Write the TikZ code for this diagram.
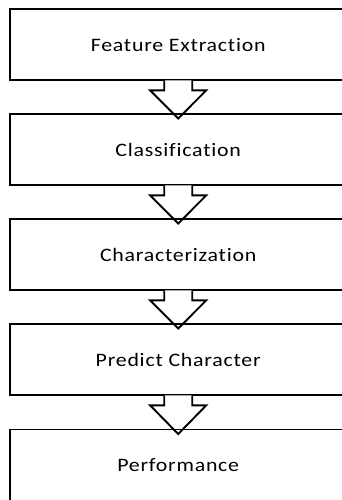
\documentclass[tikz,border=0pt]{standalone}
\usepackage{fontspec}
\setmainfont[FakeStretch=1.15,LetterSpace=4,Ligatures=NoCommon]{Carlito}
\usetikzlibrary{calc}
\tikzset{
  stage/.style={minimum width=336pt, minimum height=71pt, inner sep=0pt, anchor=north west, font=\fontsize{19}{21}\selectfont},
  frame/.style={draw=black, line width=1.9pt},
  flowarrow/.style={draw=black, line width=1.9pt, line join=miter}
}
\newcommand\myarrow[2]{%
  \fill[white] ($(#1.south)+(-14,0)$) -- ($(#1.south)+(-14,10)$) -- ($(#1.south)+(-28,10)$) -- ($(#2.north)+(0,4.5)$) -- ($(#1.south)+(28,10)$) -- ($(#1.south)+(14,10)$) -- ($(#1.south)+(14,0)$) -- cycle;
  \draw[flowarrow] ($(#1.south)+(-14,0)$) -- ($(#1.south)+(-14,10)$) -- ($(#1.south)+(-28,10)$) -- ($(#2.north)+(0,4.5)$) -- ($(#1.south)+(28,10)$) -- ($(#1.south)+(14,10)$) -- ($(#1.south)+(14,0)$);
}
\begin{document}
\begin{tikzpicture}[x=1pt,y=-1pt]
\useasboundingbox (0,0) rectangle (342,500);
\fill[white] (0,0) rectangle (342,500);
\clip (0,0) rectangle (342,500);
\node[stage] (b1) at (10,9) {\raisebox{-1.5pt}{Feature Extraction}};
\node[stage] (b2) at (10,114) {\raisebox{-1.5pt}{Classification}};
\node[stage] (b3) at (10,219) {\raisebox{-1.5pt}{Characterization}};
\node[stage] (b4) at (10,324) {\raisebox{-1.5pt}{Predict Character}};
\node[stage] (b5) at (10,429.5) {\raisebox{-1.5pt}{Performance}};
\draw[frame] (b1.north west) rectangle (b1.south east);
\myarrow{b1}{b2}
\draw[frame] (b2.north west) rectangle (b2.south east);
\myarrow{b2}{b3}
\draw[frame] (b3.north west) rectangle (b3.south east);
\myarrow{b3}{b4}
\draw[frame] (b4.north west) rectangle (b4.south east);
\myarrow{b4}{b5}
\draw[frame] (b5.north west) rectangle (b5.south east);
\end{tikzpicture}
\end{document}
